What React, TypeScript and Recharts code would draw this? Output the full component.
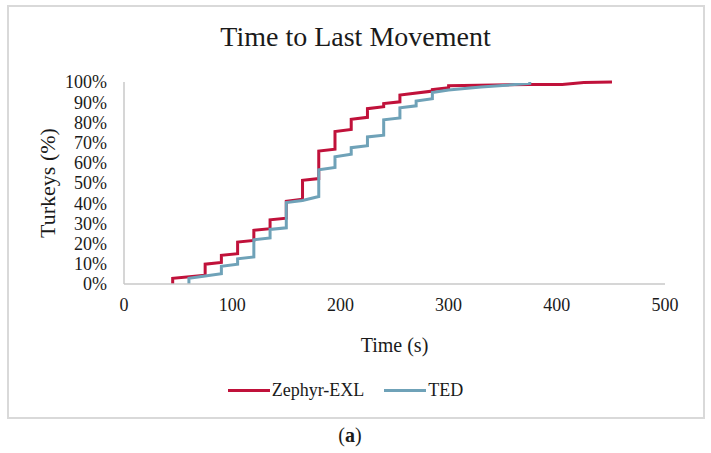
import { LineChart, Line, XAxis, YAxis, Legend } from 'recharts';

// Zephyr-EXL cumulative share of turkeys (%) against time (s)
const zephyrTime = [45, 45, 75, 75, 90, 90, 105, 105, 120, 120, 135, 135, 150, 150, 165, 165, 180, 180, 195, 195, 210, 210, 225, 225, 240, 240, 255, 255, 285, 285, 300, 300, 375, 405, 425, 451];
const zephyrPct = [0, 2.8, 4.3, 9.8, 10.7, 14.2, 15, 20.8, 21.6, 26.6, 27.4, 31.8, 32.6, 40.9, 42, 51.3, 52.2, 65.8, 66.7, 75.5, 76.5, 81.5, 82.5, 86.8, 87.8, 89.3, 90.2, 93.5, 95.5, 96.2, 97.2, 98.2, 98.8, 98.8, 99.8, 100];

// TED
const tedTime = [60, 60, 75, 90, 90, 105, 105, 120, 120, 135, 135, 150, 150, 165, 180, 180, 195, 195, 210, 210, 225, 225, 240, 240, 255, 255, 270, 270, 285, 285, 300, 330, 375, 375];
const tedPct = [0, 2.8, 4, 5.1, 8.8, 9.8, 12.5, 13.4, 21.9, 22.8, 27, 27.8, 40.3, 41.3, 43.3, 56.5, 57.7, 63, 64.2, 67.5, 68.5, 72.8, 73.7, 81.3, 82.2, 87.2, 88.2, 90.6, 91.7, 94.8, 96, 97.5, 99.3, 100];

const seriesNames = ['Zephyr-EXL', 'TED'];
const xTicks = [0, 100, 200, 300, 400, 500];
const yTicks = [0, 10, 20, 30, 40, 50, 60, 70, 80, 90, 100];

const zephyrData = zephyrTime.map((t, i) => ({ t, v: zephyrPct[i] }));
const tedData = tedTime.map((t, i) => ({ t, v: tedPct[i] }));

const FONT = '"Liberation Serif", "Times New Roman", serif';
const TEXT = '#1a1a1a';
const RED = '#C0113A';
const BLUE = '#6FA2B8';

const renderLegend = (props: any) => {
  const items = [...(props.payload || [])].sort(
    (a: any, b: any) => seriesNames.indexOf(a.value) - seriesNames.indexOf(b.value)
  );
  return (
    <div style={{ display: 'flex', justifyContent: 'center', fontFamily: FONT, fontSize: 18, color: TEXT }}>
      {items.map((it: any) => (
        <div key={it.value} style={{ display: 'flex', alignItems: 'center', marginRight: 20 }}>
          <div style={{ width: 42, height: 3, background: it.color, marginRight: 2 }} />
          <span>{it.value}</span>
        </div>
      ))}
    </div>
  );
};

export default function App() {
  return (
    <div style={{ position: 'absolute', left: 0, top: 0, width: 711, height: 453, background: '#fff' }}>
      <div
        style={{
          position: 'absolute',
          left: 7,
          top: 5,
          width: 694,
          height: 410,
          border: '2px solid #D9D9D9',
        }}
      />
      <div
        style={{
          position: 'absolute',
          left: 0,
          width: 711,
          top: 21,
          textAlign: 'center',
          fontFamily: FONT,
          fontSize: 28,
          color: TEXT,
        }}
      >
        Time to Last Movement
      </div>
      <div style={{ position: 'absolute', left: 0, top: 0 }}>
        <LineChart width={711} height={453} margin={{ top: 82, right: 46, bottom: 63, left: 0 }}>
          <XAxis
            dataKey="t"
            type="number"
            domain={[0, 500]}
            ticks={xTicks}
            height={106}
            tickLine={false}
            tickSize={0}
            tickMargin={14}
            axisLine={{ stroke: '#C8C8C8', strokeWidth: 1.5 }}
            tick={{ fill: TEXT, fontSize: 18, fontFamily: FONT }}
            label={{ value: 'Time (s)', position: 'center', dy: 8, fill: TEXT, fontSize: 20, fontFamily: FONT }}
          />
          <YAxis
            dataKey="v"
            type="number"
            domain={[0, 100]}
            ticks={yTicks}
            width={124}
            interval={0}
            tickLine={false}
            tickSize={0}
            tickMargin={17}
            tickFormatter={(v: number) => `${v}%`}
            axisLine={{ stroke: '#C8C8C8', strokeWidth: 1.5 }}
            tick={{ fill: TEXT, fontSize: 18, fontFamily: FONT }}
            label={{ value: 'Turkeys (%)', angle: -90, position: 'center', dx: -15, fill: TEXT, fontSize: 22, fontFamily: FONT }}
          />
          <Legend
            layout="horizontal"
            verticalAlign="middle"
            align="center"
            content={renderLegend}
            wrapperStyle={{ top: 380, left: 0, width: 711 }}
          />
          <Line
            data={zephyrData}
            dataKey="v"
            name="Zephyr-EXL"
            type="linear"
            stroke={RED}
            strokeWidth={3}
            dot={false}
            isAnimationActive={false}
          />
          <Line
            data={tedData}
            dataKey="v"
            name="TED"
            type="linear"
            stroke={BLUE}
            strokeWidth={3}
            dot={false}
            isAnimationActive={false}
          />
        </LineChart>
      </div>
      <div
        style={{
          position: 'absolute',
          left: 0,
          width: 700,
          top: 424,
          textAlign: 'center',
          fontFamily: FONT,
          fontSize: 20,
          color: TEXT,
        }}
      >
        (<b>a</b>)
      </div>
    </div>
  );
}
